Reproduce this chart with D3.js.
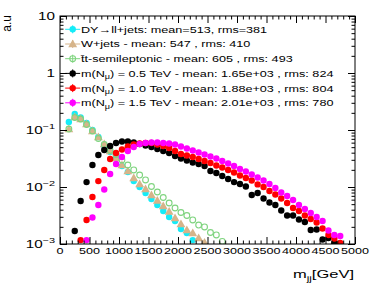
<!DOCTYPE html>
<html><head><meta charset="utf-8">
<script src="https://cdn.jsdelivr.net/npm/d3@7"></script>
<style>body{margin:0;background:#fff}svg{display:block}text{font-family:"Liberation Sans",Arial,Helvetica,sans-serif}</style>
</head><body>
<svg id="c" width="374" height="291"></svg>
<script>
// ---------------- data (bin centres in GeV, normalised a.u.) ----------------
const dyMass = [150,250,350,450,550,650,750,850,950,1050,1150,1250,1350,1450,1550,1650,1750,1850,1950,2050,2150,2250];
const dyVals = [0.138,0.191,0.1657,0.133,0.100,0.0754,0.0524,0.0411,0.0323,0.0234,0.0183,0.0127,0.0100,0.00785,0.00616,0.00483,0.00379,0.00298,0.00253,0.00183,0.00156,0.00117];

const wMass = [150,250,350,450,550,650,750,850,950,1050,1150,1250,1350,1450,1550,1650,1750,1850,1950,2050,2150,2250,2350,2450];
const wVals = [0.104,0.169,0.156,0.127,0.096,0.0754,0.0568,0.0428,0.0323,0.0243,0.0191,0.0144,0.0113,0.00922,0.00724,0.00579,0.00464,0.00372,0.00286,0.00224,0.00176,0.00156,0.00127,0.00106];

const ttMass = [150,250,350,450,550,650,750,850,950,1050,1150,1250,1350,1450,1550,1650,1750,1850,1950,2050,2150,2250,2350,2450,2550,2650,2750];
const ttVals = [0.104,0.1657,0.156,0.1249,0.096,0.0709,0.0557,0.0437,0.0372,0.0298,0.0243,0.0199,0.0162,0.0133,0.0102,0.00817,0.00654,0.00524,0.00428,0.00357,0.00316,0.00264,0.00215,0.00199,0.00159,0.00144,0.00111];

const n05Mass = [250,350,450,550,650,750,850,950,1050,1150,1250,1350,1450,1550,1650,1750,1850,1950,2050,2150,2250,2350,2450,2550,2650,2750,2850,2950,3050,3150,3250,3350,3450,3550,3650,3750,3850,3950,4050,4150,4250,4350,4450,4550,4650];
const n05Vals = [0.00169,0.00568,0.0122,0.0243,0.0364,0.0446,0.0524,0.0592,0.0628,0.0628,0.0604,0.0568,0.0535,0.0504,0.0464,0.0428,0.0395,0.0350,0.0316,0.0292,0.0269,0.0253,0.0234,0.0191,0.0176,0.0156,0.0138,0.0122,0.0113,0.0102,0.00724,0.00785,0.00628,0.00535,0.00483,0.00387,0.00316,0.00316,0.00269,0.00243,0.00176,0.00180,0.00120,0.00127,0.00104];

const n10Mass = [350,450,550,650,750,850,950,1050,1150,1250,1350,1450,1550,1650,1750,1850,1950,2050,2150,2250,2350,2450,2550,2650,2750,2850,2950,3050,3150,3250,3350,3450,3550,3650,3750,3850,3950,4050,4150,4250,4350,4450,4550,4650,4750];
const n10Vals = [0.00117,0.00264,0.00668,0.0127,0.0199,0.0310,0.0395,0.0455,0.0514,0.0557,0.0580,0.0592,0.0592,0.0557,0.0524,0.0483,0.0428,0.0379,0.0357,0.0336,0.0310,0.0286,0.0264,0.0238,0.0220,0.0199,0.0180,0.0159,0.0144,0.0130,0.0111,0.0100,0.00851,0.00739,0.00628,0.00524,0.00428,0.00379,0.00316,0.00275,0.00238,0.00187,0.00144,0.00125,0.00104];

const n15Mass = [450,550,650,750,850,950,1050,1150,1250,1350,1450,1550,1650,1750,1850,1950,2050,2150,2250,2350,2450,2550,2650,2750,2850,2950,3050,3150,3250,3350,3450,3550,3650,3750,3850,3950,4050,4150,4250,4350,4450,4550,4650,4750];
const n15Vals = [0.00117,0.00292,0.00483,0.00904,0.0169,0.0253,0.0336,0.0428,0.0504,0.0568,0.0592,0.0604,0.0604,0.0592,0.0580,0.0557,0.0514,0.0474,0.0437,0.0403,0.0372,0.0343,0.0316,0.0286,0.0258,0.0234,0.0207,0.0187,0.0166,0.0147,0.0130,0.0113,0.0096,0.00801,0.00695,0.00591,0.00483,0.00411,0.00350,0.00298,0.00253,0.00173,0.00144,0.00138];

const legendLabels = [
  "DY\u2192ll+jets: mean=513, rms=381",
  "W+jets - mean: 547 , rms: 410",
  "t\u0304t-semileptonic - mean: 605 , rms: 493",
  "0.5 TeV - mean: 1.65e+03 , rms: 824",
  "1.0 TeV - mean: 1.88e+03 , rms: 804",
  "1.5 TeV - mean: 2.01e+03 , rms: 780"
];
const xTickValues = [0,500,1000,1500,2000,2500,3000,3500,4000,4500,5000];
const yTickValues = [1e-3,1e-2,1e-1,1,10];
const yTickBase = ["10","10","10","1","10"];
const yTickExp  = ["\u22123","\u22122","\u22121","",""];
const xTitle = "m", xTitleSub = "jj", xTitleUnit = "[GeV]";
const yTitle = "a.u";

// ---------------- layout ----------------
const svg = d3.select("#c");
const L = 60, R = 355, T = 16, B = 244;
const x = d3.scaleLinear().domain([0,5000]).range([L,R]);
const y = d3.scaleLog().domain([1e-3,10]).range([B,T]);

const series = [
  {mass:dyMass, vals:dyVals, color:"#14ecf8", shape:"dot"},
  {mass:wMass,  vals:wVals,  color:"#d6b48a", shape:"tri"},
  {mass:ttMass, vals:ttVals, color:"#7fd47f", shape:"open"},
  {mass:n05Mass,vals:n05Vals,color:"#000000", shape:"dot"},
  {mass:n10Mass,vals:n10Vals,color:"#ff0000", shape:"dot"},
  {mass:n15Mass,vals:n15Vals,color:"#ff00ff", shape:"dot"}
];

svg.append("defs").append("clipPath").attr("id","clip")
  .append("rect").attr("x",L).attr("y",T).attr("width",R-L).attr("height",B-T);

function drawMarker(g, shape, color, cx, cy){
  if(shape==="dot"){
    g.append("circle").attr("cx",cx).attr("cy",cy).attr("r",3.2).attr("fill",color);
  } else if(shape==="open"){
    g.append("circle").attr("cx",cx).attr("cy",cy).attr("r",2.9).attr("fill","none").attr("stroke",color).attr("stroke-width",1.1);
  } else {
    g.append("path").attr("d",d3.symbol().type(d3.symbolTriangle).size(34)())
      .attr("transform",`translate(${cx},${cy+0.6})`).attr("fill",color);
  }
}

const plot = svg.append("g").attr("clip-path","url(#clip)");
series.forEach(s=>{
  const g = plot.append("g");
  s.mass.forEach((m,i)=>drawMarker(g, s.shape, s.color, x(m), y(s.vals[i])));
});

// ---------------- axes (ticks inside, ROOT style) ----------------
const xMinor = d3.range(0,5001,100).filter(v=>v%500!==0);
const yMinor = [];
[1e-3,1e-2,1e-1,1].forEach(d=>{for(let k=2;k<=9;k++) yMinor.push(d*k);});

function styleAxis(g){ g.select(".domain").remove(); g.selectAll("line").attr("stroke","#000").attr("stroke-width",1); g.selectAll("text").remove(); }
const MJ=7, MN=3.5;
svg.append("g").attr("transform",`translate(0,${B})`).call(d3.axisBottom(x).tickValues(xTickValues).tickSize(-MJ)).call(styleAxis);
svg.append("g").attr("transform",`translate(0,${B})`).call(d3.axisBottom(x).tickValues(xMinor).tickSize(-MN)).call(styleAxis);
svg.append("g").attr("transform",`translate(0,${T})`).call(d3.axisTop(x).tickValues(xTickValues).tickSize(-MJ)).call(styleAxis);
svg.append("g").attr("transform",`translate(0,${T})`).call(d3.axisTop(x).tickValues(xMinor).tickSize(-MN)).call(styleAxis);
svg.append("g").attr("transform",`translate(${L},0)`).call(d3.axisLeft(y).tickValues(yTickValues).tickSize(-MJ)).call(styleAxis);
svg.append("g").attr("transform",`translate(${L},0)`).call(d3.axisLeft(y).tickValues(yMinor).tickSize(-MN)).call(styleAxis);
svg.append("g").attr("transform",`translate(${R},0)`).call(d3.axisRight(y).tickValues(yTickValues).tickSize(-MJ)).call(styleAxis);
svg.append("g").attr("transform",`translate(${R},0)`).call(d3.axisRight(y).tickValues(yMinor).tickSize(-MN)).call(styleAxis);

svg.append("rect").attr("x",L).attr("y",T).attr("width",R-L).attr("height",B-T)
  .attr("fill","none").attr("stroke","#000").attr("stroke-width",1);

// tick labels (text in the reference is horizontally wide)
const xl = svg.append("g");
xTickValues.forEach(v=>{
  xl.append("text").attr("transform",`translate(${x(v)},${B+9.5}) scale(1.4,1)`)
    .attr("text-anchor","middle").attr("font-size",9).text(v);
});
const yl = svg.append("g");
yTickValues.forEach((v,i)=>{
  const t = yl.append("text").attr("transform",`translate(55,${y(v)+3.5}) scale(1.45,1)`)
    .attr("text-anchor","end").attr("font-size",10.5);
  t.append("tspan").text(yTickBase[i]);
  if(yTickExp[i]) t.append("tspan").attr("font-size",7.5).attr("dy",-4.5).text(yTickExp[i]);
});

// axis titles
const xt = svg.append("text").attr("transform",`translate(354,278) scale(1.5,1)`)
  .attr("text-anchor","end").attr("font-size",11);
xt.append("tspan").text(xTitle);
xt.append("tspan").attr("font-size",7.7).attr("dy",3).text(xTitleSub);
xt.append("tspan").attr("dy",-3).text(xTitleUnit);
svg.append("text").attr("transform","translate(11,15) rotate(-90)").attr("text-anchor","end")
  .attr("font-size",12).text(yTitle);

// ---------------- legend ----------------
const leg = svg.append("g");
const legY0 = 29.3, legDY = 14.7, mx = 72.7;
series.forEach((s,i)=>{
  const cy = legY0 + i*legDY;
  leg.append("line").attr("x1",mx-7.5).attr("x2",mx+7.5).attr("y1",cy).attr("y2",cy).attr("stroke",s.color).attr("stroke-width",1);
  leg.append("line").attr("x1",mx).attr("x2",mx).attr("y1",cy-4).attr("y2",cy+4).attr("stroke",s.color).attr("stroke-width",1);
  drawMarker(leg, s.shape, s.color, mx, cy);
  const t = leg.append("text").attr("transform",`translate(81,${cy+3.4}) scale(1.33,1)`).attr("font-size",9.5);
  if(i>=3){
    t.append("tspan").text("m(N");
    t.append("tspan").attr("font-size",6.8).attr("dy",2.5).text("\u03bc");
    t.append("tspan").attr("dy",-2.5).text(") = " + legendLabels[i]);
  } else {
    t.text(legendLabels[i]);
  }
});
</script>
</body></html>
